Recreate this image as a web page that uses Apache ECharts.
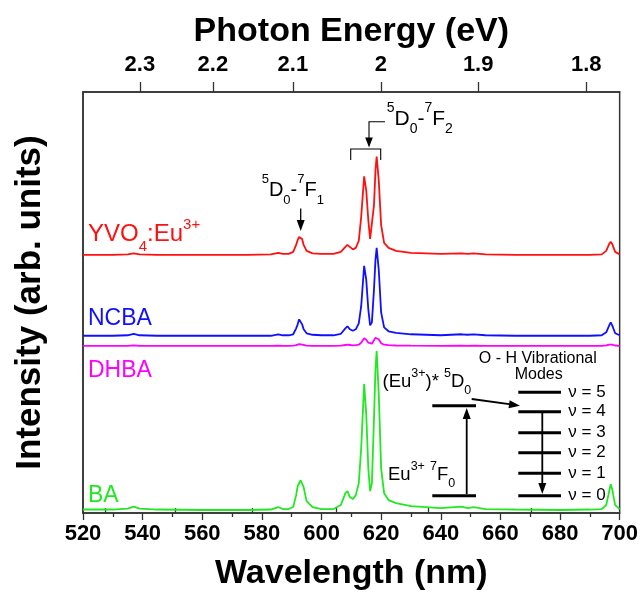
<!DOCTYPE html>
<html><head><meta charset="utf-8">
<script src="https://cdn.jsdelivr.net/npm/echarts@6/dist/echarts.min.js"></script>
<style>html,body{margin:0;padding:0;background:#fff}#c{width:641px;height:596px}</style>
</head><body><div id="c"></div>
<script>
// ---- data (wavelength in nm, intensity in arbitrary offset units) ----
const wavelengths = [520,530,535,537,539,545,560,575,583,585.5,587,589,590.5,591.5,592,592.5,593,593.5,594,595,597,600,604,606.5,608,608.7,609.5,610.5,611.5,612.5,613.3,614.3,615.0,615.7,616.3,616.9,617.6,618.1,618.5,619.2,620,621,622.5,625,630,640,647,649,651,655,665,680,690,694,695.5,696.5,697,697.5,698.5,700];
const yvo4 = [260,260,260.5,261.5,260.5,260,260,260,260.5,262,261,261,263,270,275,278,279.3,276,270,264,261.5,261,261,263,268,270,268,265.5,267,274,298,339,325,295,276,277,310,345,359,335,290,272,267,264,262,261,261.5,261,261.5,260.5,260,260,260,260.5,264,271,273.3,271,263,260.5];
const ncba = [178.5,178.5,179,180.5,179,178.5,178.5,178.5,178.5,180,179,179,180,186,190,195,193,190,185,181,179.5,179,179,180.5,186,188,185,183.5,185,191,208,249,235,205,189,192,225,255,267,245,202,187,183,181.5,180,179,180,179.5,180,179,178.5,178.5,178.5,179,182,189,192,189,181,179];
const dhba = [168.3,168.3,168.4,168.8,168.4,168.3,168.3,168.3,168.3,168.6,168.4,168.4,168.5,169,169.7,170,169.8,169.5,169,168.5,168.4,168.3,168.3,168.5,169.2,169.5,169.2,168.8,169,169.5,171.5,176,174.5,171.5,170,170.5,174,176.5,177.7,175,171,169.5,169,168.7,168.5,168.4,168.6,168.4,168.6,168.4,168.3,168.3,168.3,168.3,168.8,169.6,170,169.6,168.7,168.3];
const ba = [3.5,3.5,4.5,6.5,4.5,3.5,3,3,3.5,6,4,4,6,18,27,25,33,35,26,12,6,4,4,8,20,22,16,14,18,30,65,130,100,45,22,30,95,145,163,120,45,20,13,10,7,5,6.5,5,6,4,3.5,3,3.5,4,8,22,29,24,8,4];
const energyTicks = [2.3, 2.2, 2.1, 2.0, 1.9, 1.8];
const energyMinorTicks = [2.35, 2.25, 2.15, 2.05, 1.95, 1.85];
const seriesNames = ['YVO4:Eu3+', 'NCBA', 'DHBA', 'BA'];
const levelLabels = ['\u03bd = 5', '\u03bd = 4', '\u03bd = 3', '\u03bd = 2', '\u03bd = 1', '\u03bd = 0'];

const HC = 1239.84;
const FF = '"Liberation Sans", Arial, Helvetica, sans-serif';
const colors = { red: '#ff1010', blue: '#1010ff', magenta: '#ff00ff', green: '#22e822' };
const pair = arr => wavelengths.map((w, i) => [w, arr[i]]);

function mkSeries(name, arr, color) {
  return { name, type: 'line', data: pair(arr), showSymbol: false, symbol: 'none',
    xAxisIndex: 0, yAxisIndex: 0, lineStyle: { color, width: 1.8 }, itemStyle: { color },
    silent: true, animation: false };
}

// ---- graphic helpers (annotations) ----
const G = [];
function line(pts, w) {
  G.push({ type: 'polyline', shape: { points: pts }, style: { stroke: '#000', lineWidth: w || 1.6, fill: null }, z: 100 });
}
function head(tx, ty, dx, dy, len, hw) {
  const n = Math.hypot(dx, dy); dx /= n; dy /= n;
  const bx = tx - dx * len, by = ty - dy * len;
  G.push({ type: 'polygon', shape: { points: [[tx, ty], [bx - dy * hw, by + dx * hw], [bx + dy * hw, by - dx * hw]] },
    style: { fill: '#000' }, z: 101 });
}
function arrow(x1, y1, x2, y2, w) {
  const len = 11, dx = x2 - x1, dy = y2 - y1, n = Math.hypot(dx, dy);
  line([[x1, y1], [x2 - dx / n * (len - 2), y2 - dy / n * (len - 2)]], w);
  head(x2, y2, dx, dy, len, 4);
}
function text(x, y, str, size, color, align, vAlign) {
  G.push({ type: 'text', x, y, z: 102, style: { text: str, font: `${size}px ${FF}`, fill: color,
    align: align || 'left', verticalAlign: vAlign || 'middle', textAlign: align || 'left', textVerticalAlign: vAlign || 'middle' } });
}
function rich(x, yTop, str, main, small, lh, color, supPad) {
  G.push({ type: 'text', x, y: yTop, z: 102, style: {
    text: str, font: `${main}px ${FF}`, fill: color, align: 'left', verticalAlign: 'top',
    textAlign: 'left', textVerticalAlign: 'top',
    rich: {
      m: { font: `${main}px ${FF}`, fill: color, verticalAlign: 'middle', lineHeight: lh },
      s: { font: `${small}px ${FF}`, fill: color, verticalAlign: 'top', padding: [supPad || 0, 0, 0, 0] },
      b: { font: `${small}px ${FF}`, fill: color, verticalAlign: 'bottom' }
    } } });
}

// series labels
rich(88, 214.5, '{m|YVO}{b|4}{m|:Eu}{s|3+}', 24, 15, 40, colors.red, 3);
text(88, 318.4, seriesNames[1], 23, colors.blue);
text(88, 370.7, seriesNames[2], 23, colors.magenta);
text(88, 495.7, seriesNames[3], 23, colors.green);

// transition labels
rich(261.7, 173, '{s|5}{m|D}{b|0}{m|-}{s|7}{m|F}{b|1}', 20, 13, 34, '#000');
arrow(300.7, 208.5, 300.7, 231, 1.3);
rich(386.7, 101.6, '{s|5}{m|D}{b|0}{m|-}{s|7}{m|F}{b|2}', 21, 14, 35, '#000');
line([[385, 121.7], [369, 121.7], [369, 138]], 1.1);
head(369, 147.5, 0, 1, 10, 3.8);
line([[350.7, 160], [350.7, 149], [380.7, 149], [380.7, 160]], 1.1);

// energy diagram
text(537.8, 358.6, 'O - H Vibrational', 16, '#000', 'center');
text(538.7, 374.3, 'Modes', 16, '#000', 'center');
const levelY = [392.3, 411.7, 432.7, 452.7, 473.3, 495.7];
levelY.forEach((y, i) => {
  line([[518.3, y], [561, y]], 3);
  text(568.3, y, levelLabels[i], 17, '#000');
});
line([[432.3, 405.7], [476, 405.7]], 3);
line([[432.3, 495.7], [476, 495.7]], 3);
arrow(466.7, 494, 466.7, 408, 1.8);
arrow(471.7, 399, 520, 405.7, 1.8);
arrow(542.3, 411.7, 542.3, 494, 1.8);
rich(382.5, 366.8, '{m|(Eu}{s|3+}{m|)* }{s|5}{m|D}{b|0}', 18.5, 12.5, 30, '#000');
rich(388, 460.2, '{m|Eu}{s|3+}{m| }{s|7}{m|F}{b|0}', 18.5, 12.5, 30, '#000');

const majorW = energyTicks.map(e => HC / e);
const minorW = energyMinorTicks.map(e => HC / e);
const titleStyle = { fontFamily: FF, fontSize: 34, fontWeight: 'bold', color: '#000' };
const labelStyle = { fontFamily: FF, fontSize: 22, fontWeight: 'bold', color: '#000' };

const option = {
  animation: false,
  backgroundColor: '#fff',
  grid: { left: 83, right: 21, top: 92, bottom: 80, show: true, borderColor: '#333', borderWidth: 1.5, backgroundColor: 'transparent' },
  xAxis: [
    { type: 'value', position: 'bottom', min: 520, max: 700, interval: 20,
      name: 'Wavelength (nm)', nameLocation: 'middle', nameGap: 44, nameTextStyle: titleStyle,
      axisLine: { show: true, onZero: false, lineStyle: { color: '#333', width: 1.5 } },
      axisTick: { show: true, inside: false, length: 7, lineStyle: { color: '#333', width: 1.3 } },
      minorTick: { show: true, splitNumber: 2, length: 4, lineStyle: { color: '#333', width: 1.3 } },
      axisLabel: Object.assign({ margin: 10 }, labelStyle),
      splitLine: { show: false }, minorSplitLine: { show: false } },
    { type: 'value', position: 'top', min: 520, max: 700,
      name: 'Photon Energy (eV)', nameLocation: 'middle', nameGap: 43, nameTextStyle: titleStyle,
      axisLine: { show: true, onZero: false, lineStyle: { color: '#333', width: 1.5 } },
      axisTick: { show: true, inside: false, length: 10, customValues: majorW, lineStyle: { color: '#333', width: 1.3 } },
      axisLabel: Object.assign({ margin: 16, customValues: majorW, showMinLabel: true, showMaxLabel: true,
        formatter: v => String(Math.round(HC * 10 / v) / 10) }, labelStyle),
      splitLine: { show: false } },
    { type: 'value', position: 'top', min: 520, max: 700,
      axisLine: { show: false },
      axisTick: { show: true, inside: false, length: 5, customValues: minorW, lineStyle: { color: '#333', width: 1.3 } },
      axisLabel: { show: false, customValues: minorW },
      splitLine: { show: false } }
  ],
  yAxis: [
    { type: 'value', min: 0, max: 424, position: 'left',
      name: 'Intensity (arb. units)', nameLocation: 'middle', nameGap: 35, nameRotate: 90,
      nameTextStyle: Object.assign({}, titleStyle, { fontSize: 35 }),
      axisLine: { show: true, onZero: false, lineStyle: { color: '#333', width: 1.5 } },
      axisTick: { show: false }, axisLabel: { show: false }, splitLine: { show: false } }
  ],
  series: [
    mkSeries(seriesNames[3], ba, colors.green),
    mkSeries(seriesNames[2], dhba, colors.magenta),
    mkSeries(seriesNames[1], ncba, colors.blue),
    mkSeries(seriesNames[0], yvo4, colors.red)
  ],
  graphic: { elements: G }
};
const chart = echarts.init(document.getElementById('c'), null, { renderer: 'canvas' });
chart.setOption(option);
</script>
</body></html>
